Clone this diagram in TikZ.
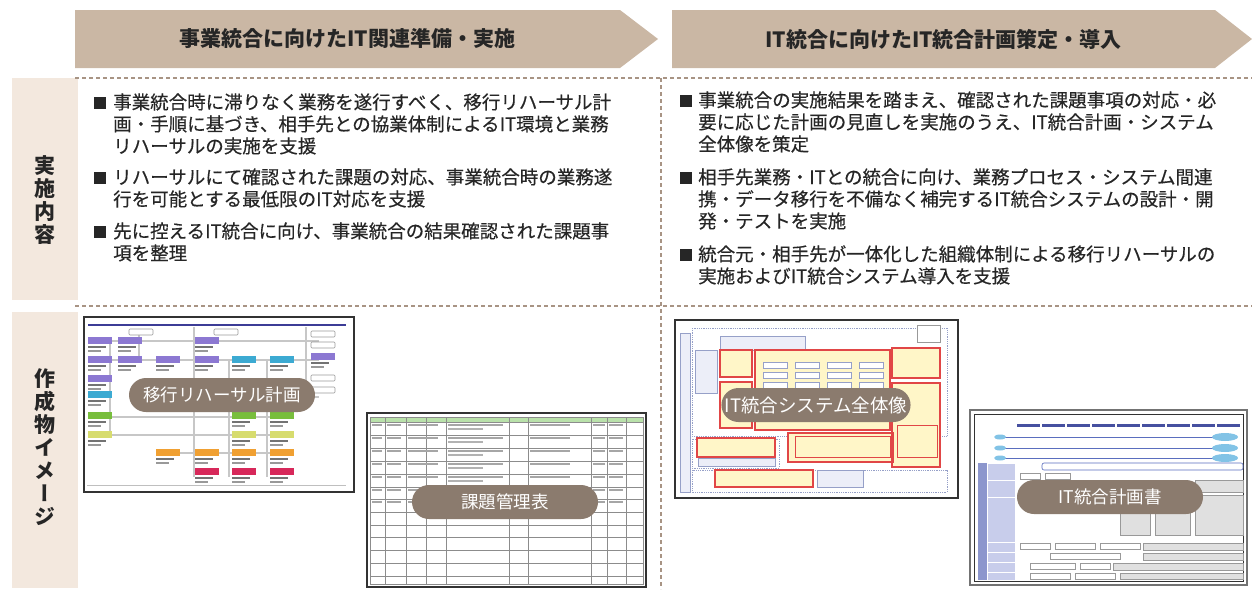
\documentclass[tikz,border=0pt]{standalone}
\usepackage{fontspec}
\setmainfont{Noto Sans CJK JP}
\newfontfamily\jpmed{Noto Sans CJK JP}[FakeBold=0.4]
\definecolor{hdrbg}{RGB}{202,183,164}
\definecolor{lblbg}{RGB}{243,232,222}
\definecolor{sepcol}{RGB}{168,148,132}
\definecolor{pillbg}{RGB}{139,123,110}
\definecolor{ink}{RGB}{38,38,38}
\definecolor{tnavy}{RGB}{60,60,150}
\definecolor{tpurp}{RGB}{140,120,210}
\definecolor{tcyan}{RGB}{60,170,210}
\definecolor{tlgreen}{RGB}{120,190,60}
\definecolor{tyel}{RGB}{215,220,110}
\definecolor{torange}{RGB}{240,160,50}
\definecolor{tcrimson}{RGB}{215,40,90}
\definecolor{tgreen}{RGB}{185,225,170}
\definecolor{sysblue}{RGB}{150,160,200}
\definecolor{sysfill}{RGB}{236,238,248}
\definecolor{sysred}{RGB}{225,70,70}
\definecolor{sysyel}{RGB}{255,246,200}
\definecolor{plannavy}{RGB}{70,80,160}
\definecolor{planblue}{RGB}{90,110,190}
\definecolor{plancyan}{RGB}{130,195,230}
\definecolor{plancol}{RGB}{140,150,205}
\definecolor{planlab}{RGB}{200,205,235}
\tikzset{
  hdrtext/.style={font=\bfseries\fontsize{21}{24}\selectfont, text=ink},
  lbltext/.style={font=\bfseries\fontsize{21}{23}\selectfont\addfontfeatures{RawFeature=+vert}, text=ink, align=center},
  itemtext/.style={font=\jpmed\fontsize{18.5}{22}\selectfont, text=ink, align=left, inner sep=0pt, anchor=base west},
  bul/.style={fill=ink, minimum size=12pt, inner sep=0pt},
  sepline/.style={sepcol, line width=1.8pt, dash pattern=on 4pt off 3pt},
  thumb/.style={draw=black!80, line width=1.4pt, fill=white},
  link/.style={black!22, line width=1.2pt},
  grid/.style={black!45, line width=0.6pt},
  pill/.style={fill=pillbg, text=white, rounded corners=17pt, minimum width=186pt, minimum height=34pt, font=\fontsize{17.5}{20}\selectfont},
}
\begin{document}
\begin{tikzpicture}[x=1pt,y=-1pt]
\useasboundingbox (0,0) rectangle (1252,589);
% header arrows
\fill[hdrbg] (75,10) -- (620,10) -- (658,39) -- (620,68) -- (75,68) -- cycle;
\fill[hdrbg] (672,10) -- (1215,10) -- (1252,39) -- (1215,68) -- (672,68) -- cycle;
\node[hdrtext] (h1) at (347.5,39) {事業統合に向けたIT関連準備・実施};
\node[hdrtext] (h2) at (943.5,39) {IT統合に向けたIT統合計画策定・導入};

% row labels
\fill[lblbg] (12,78) rectangle (78,300);
\fill[lblbg] (12,312) rectangle (78,588);
\node[lbltext] (lab1) at (45,200) {実\\施\\内\\容};
\node[lbltext] (lab2) at (45,447) {作\\成\\物\\イ\\メ\\ー\\ジ};

% separators
\draw[sepline] (75,78) -- (1252,78);
\draw[sepline] (75,306) -- (1252,306);
\draw[sepline] (661,78) -- (661,589);

% left items (base = last line)
\node[bul] (lb1) at (100,103) {};
\node[itemtext] (lt1) at (113,153) {事業統合時に滞りなく業務を遂行すべく、移行リハーサル計\\画・手順に基づき、相手先との協業体制によるIT環境と業務\\リハーサルの実施を支援};
\node[bul] (lb2) at (100,178) {};
\node[itemtext] (lt2) at (113,206) {リハーサルにて確認された課題の対応、事業統合時の業務遂\\行を可能とする最低限のIT対応を支援};
\node[bul] (lb3) at (100,232) {};
\node[itemtext] (lt3) at (113,260) {先に控えるIT統合に向け、事業統合の結果確認された課題事\\項を整理};

% right items
\node[bul] (rb1) at (686,101) {};
\node[itemtext] (rt1) at (698,151) {事業統合の実施結果を踏まえ、確認された課題事項の対応・必\\要に応じた計画の見直しを実施のうえ、IT統合計画・システム\\全体像を策定};
\node[bul] (rb2) at (686,178) {};
\node[itemtext] (rt2) at (698,228) {相手先業務・ITとの統合に向け、業務プロセス・システム間連\\携・データ移行を不備なく補完するIT統合システムの設計・開\\発・テストを実施};
\node[bul] (rb3) at (686,255) {};
\node[itemtext] (rt3) at (698,283) {統合元・相手先が一体化した組織体制による移行リハーサルの\\実施およびIT統合システム導入を支援};

% thumbnail: rehearsal plan
\begin{scope}[shift={(84,317)}]
  \draw[thumb] (0,0) rectangle (270,175);
  \draw[tnavy, line width=1.5pt] (4,8) -- (262,8);
  \draw[black!25, line width=0.8pt] (3,168) -- (262,168);
  \foreach \xa/\ya/\xb/\yb in {15/24/235/24,15/43/235/43,15/100/200/100,15/118/200/118,90/136/200/136,
      26/24/26/118,55/12/55/43,110/10/110/160,145/43/145/160,183/43/183/160,222/10/222/80,200/80/235/80}
    \draw[link] (\xa,\ya) -- (\xb,\yb);
  \foreach \x/\y/\col in {4/20/tpurp,4/39/tpurp,4/58/tpurp,4/74/tcyan,4/95/tlgreen,4/114/tyel,
      34/20/tpurp,34/39/tpurp,72/39/tpurp,72/132/torange,
      111/20/tpurp,111/39/tpurp,111/132/torange,111/151/tcrimson,
      148/39/tcyan,148/95/tlgreen,148/114/tyel,148/132/torange,148/151/tcrimson,
      186/39/tcyan,186/95/tlgreen,186/114/tyel,186/132/torange,186/151/tcrimson,227/36/tpurp}
  {
    \fill[\col] (\x,\y) rectangle ++(24,7);
    \fill[black!55] (\x,\y+8.5) rectangle ++(18,2.5);
    \fill[black!40] (\x,\y+12.5) rectangle ++(13,2);
  }
  \foreach \x/\y in {227/14,227/25,227/58,227/70,45/12,130/12}
    \draw[black!40, fill=white, line width=0.6pt, rounded corners=1pt] (\x,\y) rectangle ++(24,6);
\end{scope}

% thumbnail: issue table
\begin{scope}[shift={(367,413)}]
  \draw[thumb] (0,0) rectangle (279,174);
  \fill[tgreen] (3,4) rectangle (276,9);
  \foreach \y in {9,22,35,48,61,74,86,99,112,124,137,150,163}
    \draw[grid] (3,\y) -- (276,\y);
  \draw[grid] (3,4) rectangle (276,171);
  \foreach \x in {18,39,59,79,142,161,224,240,259}
    \draw[grid] (\x,4) -- (\x,171);
  \foreach \y in {11,24,37,50,63,76,88}
  {
    \fill[black!35] (5,\y) rectangle ++(10,2);
    \fill[black!35] (20,\y) rectangle ++(14,2);
    \fill[black!35] (41,\y) rectangle ++(30,2);
    \fill[black!35] (81,\y) rectangle ++(55,2);
    \fill[black!30] (81,\y+4) rectangle ++(35,2);
    \fill[black!35] (163,\y) rectangle ++(40,2);
    \fill[black!35] (226,\y) rectangle ++(12,2);
    \fill[black!35] (242,\y) rectangle ++(14,2);
  }
\end{scope}

% thumbnail: system overview
\begin{scope}[shift={(675,320)}]
  \draw[thumb] (0,0) rectangle (283,178);
  \draw[sysblue, densely dotted, line width=0.8pt] (17,8) rectangle (272,116) (17,119) rectangle (104,148) (17,150) rectangle (272,172);
  \draw[sysblue, line width=1pt, fill=sysfill] (5,13) rectangle (15,172);
  \draw[sysblue, line width=1pt, fill=sysfill] (45,16) rectangle (130,30);
  \draw[sysblue, line width=1pt, fill=sysfill] (20,30) rectangle (42,73);
  \draw[sysblue, line width=1pt, fill=sysfill] (23,138) rectangle (100,146);
  \draw[sysblue, line width=1pt, fill=sysfill] (142,150) rectangle (188,167);
  \draw[sysred, line width=1.3pt, fill=sysyel] (45,30) rectangle (77,57) (45,62) rectangle (77,108)
    (80,30) rectangle (215,110) (217,28) rectangle (265,58) (217,63) rectangle (265,147)
    (22,118) rectangle (100,137) (113,113) rectangle (218,142) (40,150) rectangle (138,167);
  \draw[sysred, line width=1pt] (222,105) rectangle (262,137) (120,116) rectangle (215,137);
  \foreach \x in {88,120,152,184}
    \foreach \y in {42,52,62,72,82,92}
      \draw[sysblue, fill=white, line width=0.5pt] (\x,\y) rectangle ++(24,6);
  \draw[black!40, fill=white, line width=0.5pt] (242,5) rectangle (265,22);
\end{scope}

% thumbnail: integration plan
\begin{scope}[shift={(970,410)}]
  \draw[black!55, line width=2.5pt, fill=white] (0,0) rectangle (277,175);
  \draw[black!80, line width=0.8pt] (4,4) rectangle (273,171);
  \foreach \x in {47,72,...,247}
    \fill[plannavy] (\x,14) rectangle ++(23,3);
  \foreach \y in {27,38,48}
  {
    \draw[planblue, line width=0.6pt] (30,\y) -- (258,\y);
    \fill[plancyan] (30,\y) ellipse (6 and 2.5);
    \fill[plancyan] (255,\y) ellipse (13 and 4);
  }
  \fill[plancol] (8,53) rectangle (17,170);
  \foreach \ya/\yb in {53/70,70/87,87/132,132/142,142/152,152/162,162/170}
    \draw[white, fill=planlab, line width=0.8pt] (17,\ya) rectangle (45,\yb);
  \draw[planblue, line width=0.6pt, rounded corners=2pt] (72,53) rectangle (273,60);
  \foreach \x/\y/\w/\h in {225/70/48/12,225/85/48/40,173/133/100/7,173/143/100/7,143/153/130/7,150/163/123/6,
      150/100/30/25,185/100/35/25}
    \draw[black!40, fill=black!12, line width=0.4pt] (\x,\y) rectangle ++(\w,\h);
  \foreach \x/\y/\w in {50/63/20,75/63/25,50/133/30,85/133/40,130/133/40,80/143/70,60/153/45,110/153/30,60/163/40,105/163/40}
    \draw[black!40, fill=white, line width=0.4pt] (\x,\y) rectangle ++(\w,6);
\end{scope}

% labels on thumbnails
\node[pill] (p1) at (222,395) {移行リハーサル計画};
\node[pill] (p2) at (505,502) {課題管理表};
\node[pill, font=\fontsize{18.5}{20}\selectfont] (p3) at (816,405) {IT統合システム全体像};
\node[pill] (p4) at (1110,497) {IT統合計画書};
\end{tikzpicture}
\end{document}
